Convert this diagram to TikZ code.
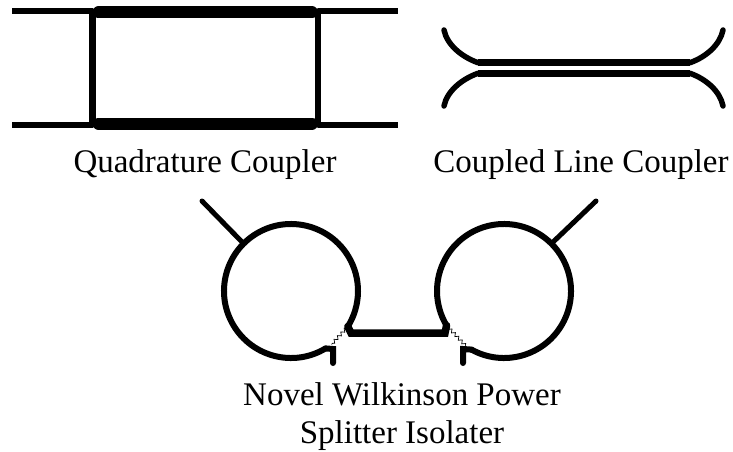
\documentclass[tikz,border=0pt]{standalone}
\usepackage{fontspec}
\setmainfont{Liberation Serif}
\usetikzlibrary{calc,decorations.pathmorphing}

\tikzset{
  wire/.style={line width=6pt, line cap=round},
  bar/.style={line width=12pt, line cap=round},
  load/.style={line width=0.7pt, decorate, decoration={zigzag, segment length=5pt, amplitude=1.6pt}},
  caption/.style={font=\fontsize{33}{38}\selectfont, anchor=base, align=center, inner sep=0pt}
}

\begin{document}
\begin{tikzpicture}[x=1pt,y=1pt]
  \useasboundingbox (0,0) rectangle (733,451);

  % Quadrature coupler
  \coordinate (tl) at (92.5,439.5);
  \coordinate (tr) at (318,439.5);
  \coordinate (bl) at (92.5,326.5);
  \coordinate (br) at (318,326.5);
  \coordinate (p1) at (12,439.5);
  \coordinate (p2) at (398,439.5);
  \coordinate (p3) at (12,326.5);
  \coordinate (p4) at (398,326.5);
  \draw[wire, line cap=butt] (p1) -- (tl);
  \draw[wire, line cap=butt] (tr) -- (p2);
  \draw[wire, line cap=butt] (p3) -- (bl);
  \draw[wire, line cap=butt] (br) -- (p4);
  \draw[wire, line width=6.5pt] (tl) -- (bl);
  \draw[wire, line width=6.5pt] (tr) -- (br);
  \draw[bar] ($(tl)+(6,-1)$) -- ($(tr)+(-6,-1)$);
  \draw[bar] ($(bl)+(6,1)$) -- ($(br)+(-6,1)$);

  % Coupled line coupler
  \coordinate (ca) at (478,388.3);
  \coordinate (cb) at (690,388.3);
  \coordinate (cc) at (478,377.7);
  \coordinate (cd) at (690,377.7);
  \draw[wire, line width=6.5pt, line cap=butt] (ca) -- (cb);
  \draw[wire, line width=6.5pt, line cap=butt] (cc) -- (cd);
  \draw[wire, line width=5.5pt] (ca) .. controls (462,394) and (447,406) .. (444,421);
  \draw[wire, line width=5.5pt] (cb) .. controls (706,394) and (720,406) .. (723,421);
  \draw[wire, line width=5.5pt] (cc) .. controls (462,372) and (447,360) .. (444,345);
  \draw[wire, line width=5.5pt] (cd) .. controls (706,372) and (720,360) .. (723,345);

  % Wilkinson splitter
  \coordinate (wl) at (291,160);
  \coordinate (wr) at (504,160);
  \coordinate (ja) at (351,118);
  \coordinate (jb) at (445,118);
  \coordinate (ol) at (202,250);
  \coordinate (or) at (596,250);
  \coordinate (sl) at (333,88);
  \coordinate (sr) at (463,88);
  \draw[wire] ($(wl)+(-59:67)$) coordinate (la)
    arc[start angle=-59, end angle=-392, radius=67] coordinate (lb);
  \draw[wire] ($(wr)+(-119:67)$) coordinate (ra)
    arc[start angle=-119, end angle=211, radius=67] coordinate (rb);
  \draw[wire, line width=7.5pt] (lb) -- (ja) -- (jb) -- (rb);
  \draw[wire, line width=5pt] (ol) -- ($(wl)+(135:67)$);
  \draw[wire, line width=5pt] (or) -- ($(wr)+(45:67)$);
  \draw[wire] (la) -- ($(sl)+(0,14)$) -- (sl);
  \draw[wire] (ra) -- ($(sr)+(0,14)$) -- (sr);
  \draw[load] (lb) -- ($(la)+(6,4)$);
  \draw[load] (rb) -- ($(ra)+(-6,4)$);

  % Captions
  \node[caption] (quad) at (205,279) {Quadrature Coupler};
  \node[caption] (line) at (581,279) {Coupled Line Coupler};
  \node[caption] (wilk) at (402,8) {Novel Wilkinson Power\\Splitter Isolater};
\end{tikzpicture}
\end{document}
